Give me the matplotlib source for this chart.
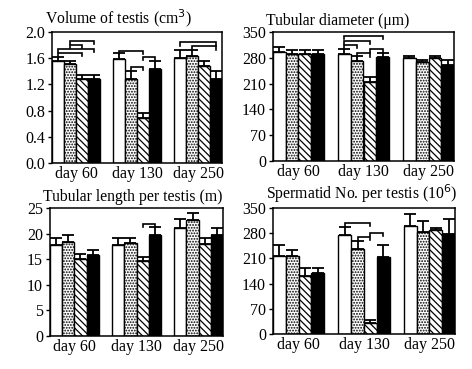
import matplotlib
matplotlib.use("Agg")
import matplotlib.pyplot as plt
import numpy as np

plt.rcParams['font.family'] = ['Liberation Serif', 'DejaVu Serif']
plt.rcParams['hatch.linewidth'] = 0.9

groups = ["day 60", "day 130", "day 250"]

titles = ["Volume of testis (cm$^3$)", "Tubular diameter (\u03bcm)",
          "Tubular length per testis (m)", "Spermatid No. per testis (10$^6$)"]

# means per group: [white, dotted, hatched, black]
volume_mean = [[1.55, 1.51, 1.28, 1.28], [1.59, 1.29, 0.69, 1.43], [1.61, 1.63, 1.48, 1.29]]
volume_err = [[0.07, 0.04, 0.06, 0.06], [0.09, 0.12, 0.08, 0.13], [0.11, 0.10, 0.07, 0.12]]
diam_mean = [[295, 291, 291, 291], [291, 271, 215, 281], [279, 269, 280, 260]]
diam_err = [[13, 9, 9, 9], [13, 13, 12, 12], [6, 6, 5, 14]]
length_mean = [[17.7, 18.3, 15.0, 15.9], [17.7, 18.1, 14.7, 19.7], [21.0, 22.6, 17.9, 19.7]]
length_err = [[1.5, 1.5, 1.1, 0.8], [1.5, 1.1, 0.8, 1.5], [1.8, 1.4, 1.3, 1.3]]
sperm_mean = [[217, 217, 162, 170], [275, 237, 30, 215], [300, 284, 289, 279]]
sperm_err = [[30, 16, 20, 12], [21, 21, 10, 33], [32, 29, 6, 40]]

# brackets: (group index, bar from, bar to, y level)
volume_br = [(0, 1, 3, 1.86), (0, 1, 2, 1.80), (0, 0, 3, 1.74), (0, 0, 2, 1.68),
             (1, 0, 2, 1.71), (1, 2, 3, 1.62), (1, 1, 2, 1.47),
             (2, 0, 3, 1.84), (2, 1, 3, 1.78)]
diam_br = [(1, 0, 3, 339), (1, 0, 2, 326), (1, 0, 1, 315), (1, 2, 3, 303), (1, 1, 2, 292)]
length_br = [(1, 2, 3, 21.9)]
sperm_br = [(1, 0, 2, 309), (1, 2, 3, 281), (1, 1, 2, 269)]

yticks = [[0.0, 0.4, 0.8, 1.2, 1.6, 2.0], [0, 70, 140, 210, 280, 350],
          [0, 5, 10, 15, 20, 25], [0, 70, 140, 210, 280, 350]]
yticklabels = [["0.0", "0.4", "0.8", "1.2", "1.6", "2.0"],
               ["0", "70", "140", "210", "280", "350"],
               ["0", "5", "10", "15", "20", "25"],
               ["0", "70", "140", "210", "280", "350"]]

means = [volume_mean, diam_mean, length_mean, sperm_mean]
errs = [volume_err, diam_err, length_err, sperm_err]
brs = [volume_br, diam_br, length_br, sperm_br]

fills = ['white', 'white', 'white', 'black']
hatches = [None, '......', '\\\\\\\\\\', None]

positions = [
    [52/472, 1-163/369, 170/472, 131/369],
    [273/472, 1-161/369, 181/472, 129/369],
    [50/472, 1-336/369, 173/472, 128/369],
    [273/472, 1-334/369, 182/472, 126/369],
]

fig = plt.figure(figsize=(4.72, 3.69), dpi=100)
centers = np.array([0, 5.1, 10.2])
offs = np.array([-1.5, -0.5, 0.5, 1.5])

for k in range(4):
    ax = fig.add_axes(positions[k])
    m = np.array(means[k]); e = np.array(errs[k])
    ymax = yticks[k][-1]
    for j in range(4):
        x = centers + offs[j]
        ax.bar(x, m[:, j], width=1.0, color=fills[j], edgecolor='black',
               hatch=hatches[j], linewidth=1.0, zorder=2)
        ax.errorbar(x, m[:, j], yerr=[np.zeros(3), e[:, j]], fmt='none',
                    ecolor='black', elinewidth=1.3, capsize=4, capthick=1.3, zorder=3)
    tick = 0.025 * ymax
    for g, a, b, yy in brs[k]:
        xa = centers[g] + offs[a]
        xb = centers[g] + offs[b]
        ax.plot([xa, xa, xb, xb], [yy - tick, yy, yy, yy - tick], color='black', lw=1.2,
                solid_joinstyle='miter', zorder=4)
    ax.set_xlim(-2.0, 12.2)
    ax.set_ylim(0, ymax)
    ax.set_yticks(yticks[k])
    ax.set_yticklabels(yticklabels[k], fontsize=11.5)
    ax.set_xticks(centers)
    ax.set_xticklabels(groups, fontsize=11.5)
    ax.tick_params(axis='x', length=0, pad=2)
    ax.tick_params(axis='y', length=3, width=1, direction='out', pad=2)
    for s in ax.spines.values():
        s.set_linewidth(1.1)
    ax.text(-0.04, 1.02, titles[k], transform=ax.transAxes, ha='left', va='bottom', fontsize=11.3)

fig.savefig("out.png", dpi=100)
